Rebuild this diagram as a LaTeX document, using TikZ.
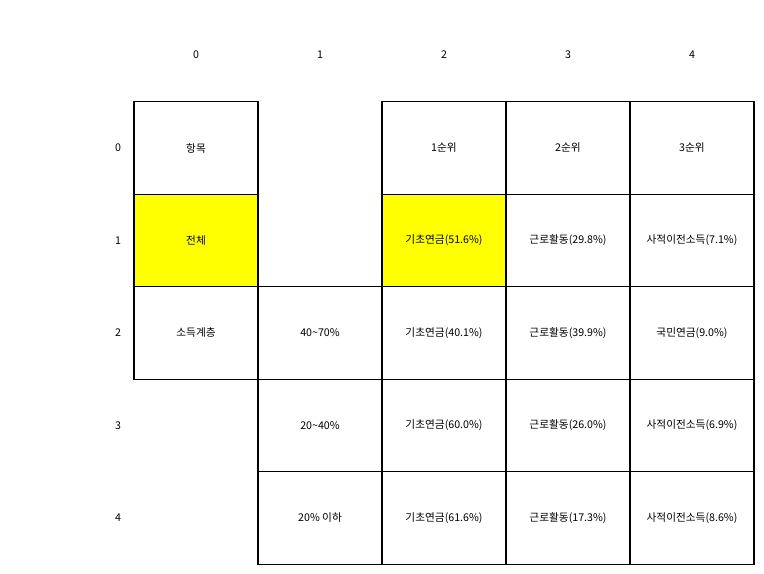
\documentclass[tikz,border=0pt]{standalone}
\usepackage{fontspec}
\setmainfont{Noto Sans CJK KR}
\definecolor{hlyellow}{RGB}{255,255,0}
\begin{document}
\begin{tikzpicture}[x=0.75pt,y=-0.75pt,
  cell/.style={draw=black,line width=0.8pt,minimum width=93pt,minimum height=69.3pt,inner sep=0pt,anchor=center,font=\fontsize{8pt}{9pt}\selectfont},
  hl/.style={cell,fill=hlyellow},
  lbl/.style={font=\fontsize{8pt}{9pt}\selectfont,inner sep=0pt}]
\useasboundingbox (0,0) rectangle (764,574);
% column centres 196,320,444,568,692 ; row centres 148,240.5,333,425.5,518
\node[lbl] (c0) at (196,55) {0};
\node[lbl] (c1) at (320,55) {1};
\node[lbl] (c2) at (444,55) {2};
\node[lbl] (c3) at (568,55) {3};
\node[lbl] (c4) at (692,55) {4};
\node[lbl] (r0) at (118,148) {0};
\node[lbl] (r1) at (118,240.5) {1};
\node[lbl] (r2) at (118,333) {2};
\node[lbl] (r3) at (118,425.5) {3};
\node[lbl] (r4) at (118,518) {4};
% row 0
\node[cell] (a00) at (196,148) {항목};
\node[cell] (a02) at (444,148) {1순위};
\node[cell] (a03) at (568,148) {2순위};
\node[cell] (a04) at (692,148) {3순위};
% row 1
\node[hl] (a10) at (196,240.5) {전체};
\node[hl] (a12) at (444,240.5) {기초연금(51.6\%)};
\node[cell] (a13) at (568,240.5) {근로활동(29.8\%)};
\node[cell] (a14) at (692,240.5) {사적이전소득(7.1\%)};
% row 2
\node[cell] (a20) at (196,333) {소득계층};
\node[cell] (a21) at (320,333) {40\textasciitilde70\%};
\node[cell] (a22) at (444,333) {기초연금(40.1\%)};
\node[cell] (a23) at (568,333) {근로활동(39.9\%)};
\node[cell] (a24) at (692,333) {국민연금(9.0\%)};
% row 3
\node[cell] (a31) at (320,425.5) {20\textasciitilde40\%};
\node[cell] (a32) at (444,425.5) {기초연금(60.0\%)};
\node[cell] (a33) at (568,425.5) {근로활동(26.0\%)};
\node[cell] (a34) at (692,425.5) {사적이전소득(6.9\%)};
% row 4
\node[cell] (a41) at (320,518) {20\% 이하};
\node[cell] (a42) at (444,518) {기초연금(61.6\%)};
\node[cell] (a43) at (568,518) {근로활동(17.3\%)};
\node[cell] (a44) at (692,518) {사적이전소득(8.6\%)};
\end{tikzpicture}
\end{document}
